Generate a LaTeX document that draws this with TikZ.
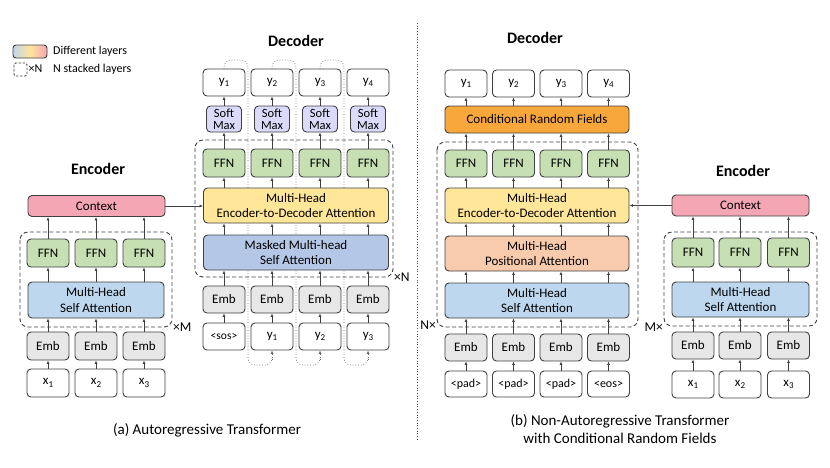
\documentclass[tikz,border=0pt]{standalone}
\usepackage{fontspec}
\setmainfont{Carlito}
\usetikzlibrary{arrows.meta}
\definecolor{ctxc}{RGB}{245,166,181}
\definecolor{ffnc}{RGB}{198,224,180}
\definecolor{sac}{RGB}{189,215,238}
\definecolor{msac}{RGB}{180,199,231}
\definecolor{edc}{RGB}{255,230,153}
\definecolor{posc}{RGB}{248,203,173}
\definecolor{crfc}{RGB}{248,167,58}
\definecolor{smc}{RGB}{218,218,250}
\definecolor{embc}{RGB}{231,231,231}
\definecolor{bordc}{RGB}{64,64,64}
\newcommand{\lsub}[1]{\raisebox{-0.4ex}{\fontsize{9}{9}\selectfont #1}}
\tikzset{
  blk/.style={draw=bordc, line width=0.9pt, rounded corners=4pt, align=center, inner sep=0pt, font=\fontsize{13}{15.5}\selectfont},
  colbox/.style={blk, minimum width=42pt, minimum height=27pt},
  tokbox/.style={colbox, fill=white},
  embbox/.style={colbox, fill=embc},
  ffnbox/.style={colbox, fill=ffnc},
  smbox/.style={blk, fill=smc, minimum width=35pt, minimum height=26pt, font=\fontsize{12.5}{12}\selectfont},
  wide/.style={blk, minimum height=35pt},
  stackbox/.style={draw=bordc, line width=0.9pt, dashed, dash pattern=on 4pt off 2.5pt, rounded corners=8pt},
  arr/.style={draw=bordc, line width=0.7pt, -{Latex[length=3.5pt,width=3pt]}},
  feed/.style={draw=bordc!80, line width=0.7pt, dotted, rounded corners=7pt, -{Latex[length=3.5pt,width=3pt]}},
  ttl/.style={font=\fontsize{16}{18}\selectfont\bfseries},
  captxt/.style={font=\fontsize{15}{18}\selectfont, align=center},
  lbl/.style={font=\fontsize{13.5}{15}\selectfont, inner sep=0pt},
  lgd/.style={font=\fontsize{12}{13}\selectfont, inner sep=0pt, anchor=west},
}
\begin{document}
\begin{tikzpicture}[x=1pt, y=-1pt]
\useasboundingbox (0,0) rectangle (830,467);
% legend
\shade[left color=sac, right color=ctxc, middle color=edc, rounded corners=3pt] (13,45) rectangle (47,58);
\draw[draw=bordc, line width=0.9pt, rounded corners=3pt] (13,45) rectangle (47,58);
\node[lgd] (lg1) at (53,51) {Different layers};
\draw[stackbox, rounded corners=2pt, dash pattern=on 2.5pt off 1.5pt] (14,63) rectangle (27,76);
\node[lgd] (lgx) at (28.5,69) {×N};
\node[lgd] (lg2) at (53,69) {N stacked layers};
% separator
\draw[line width=0.7pt, dotted, black!70] (417,23) -- (417,440);

%%%%%%%%%%%%%% (a) encoder
\node[ttl] (encA) at (98,169) {Encoder};
\draw[stackbox] (20,232) rectangle (172,327);
\node[lbl, anchor=west] (xM) at (173,327) {×M};
\node[blk, fill=ctxc, minimum width=137pt, minimum height=21pt] (ctxA) at (96.5,206) {Context};
\node[wide, fill=sac, minimum width=136pt, minimum height=36pt] (saA) at (96,300) {Multi-Head\\Self Attention};
\foreach \i/\x in {1/48,2/96,3/144}{
  \node[ffnbox, minimum height=28pt] (fA\i) at (\x,253) {FFN};
  \node[embbox, minimum height=28pt] (eA\i) at (\x,346) {Emb};
  \node[tokbox, minimum height=28pt] (xA\i) at (\x,383) {x\lsub{\i}};
  \draw[arr] (xA\i) -- (eA\i);
  \draw[arr] (eA\i.north) -- (saA.south -| eA\i.north);
  \draw[arr] (saA.north -| fA\i.south) -- (fA\i.south);
  \draw[arr] (fA\i.north) -- (ctxA.south -| fA\i.north);
}

%%%%%%%%%%%%%% (a) decoder
\node[ttl] (decA) at (296,41) {Decoder};
% feedback dotted lines (behind boxes)
\coordinate (fb1t) at (224,69);
\coordinate (fb2t) at (272,69);
\coordinate (fb3t) at (320,69);
\draw[feed, -] (fb1t) -- (224,60) -- (248,60) -- (248,365) -- (272,365) -- (272,358);
\draw[feed, -] (fb2t) -- (272,60) -- (296,60) -- (296,365) -- (320,365) -- (320,358);
\draw[feed, -] (fb3t) -- (320,60) -- (344,60) -- (344,365) -- (368,365) -- (368,358);
\draw[stackbox] (195,140) rectangle (393,277);
\node[lbl, anchor=west] (xN) at (394,277) {×N};
\node[wide, fill=edc, minimum width=185pt] (edA) at (296,205.5) {Multi-Head\\Encoder-to-Decoder Attention};
\node[wide, fill=msac, minimum width=185pt] (msA) at (296,252.5) {Masked Multi-head\\Self Attention};
\foreach \i/\x in {1/224,2/272,3/320,4/368}{
  \node[tokbox] (yA\i) at (\x,82.5) {y\lsub{\i}};
  \node[smbox] (smA\i) at (\x,119) {Soft\\Max};
  \node[ffnbox, minimum height=28pt] (fdA\i) at (\x,163) {FFN};
  \node[embbox] (edmA\i) at (\x,299.5) {Emb};
  \draw[arr] (smA\i) -- (yA\i);
  \draw[arr] (fdA\i) -- (smA\i);
  \draw[arr] (edA.north -| fdA\i.south) -- (fdA\i.south);
  \draw[arr] (msA.north -| fdA\i.south) -- (edA.south -| fdA\i.south);
  \draw[arr] (edmA\i.north) -- (msA.south -| edmA\i.north);
}
\node[tokbox, font=\fontsize{11.5}{13}\selectfont] (inA1) at (224,336.5) {<sos>};
\node[tokbox] (inA2) at (272,336.5) {y\lsub{1}};
\node[tokbox] (inA3) at (320,336.5) {y\lsub{2}};
\node[tokbox] (inA4) at (368,336.5) {y\lsub{3}};
\foreach \i in {1,2,3,4}{\draw[arr] (inA\i) -- (edmA\i);}
\draw[feed] (272,360) -- (inA2.south);
\draw[feed] (320,360) -- (inA3.south);
\draw[feed] (368,360) -- (inA4.south);
\draw[arr] (ctxA.east) -- (ctxA.east -| edA.west);
\node[captxt] (capA) at (207,430) {(a) Autoregressive Transformer};

%%%%%%%%%%%%%% (b) decoder
\node[ttl] (decB) at (535,38) {Decoder};
\draw[stackbox] (437,142) rectangle (638,327);
\node[lbl, anchor=east] (Nx) at (436,325) {N×};
\node[blk, fill=crfc, minimum width=184pt, minimum height=27pt] (crf) at (537,119.5) {Conditional Random Fields};
\node[wide, fill=edc, minimum width=184pt] (edB) at (537,205.5) {Multi-Head\\Encoder-to-Decoder Attention};
\node[wide, fill=posc, minimum width=184pt] (posB) at (537,253.5) {Multi-Head\\Positional Attention};
\node[wide, fill=sac, minimum width=184pt] (saB) at (537,300.5) {Multi-Head\\Self Attention};
\foreach \i/\x/\t in {1/466/<pad>,2/513.5/<pad>,3/561/<pad>,4/608.5/<eos>}{
  \node[tokbox] (yB\i) at (\x,83.5) {y\lsub{\i}};
  \node[ffnbox] (fB\i) at (\x,163.5) {FFN};
  \node[embbox] (eB\i) at (\x,347.5) {Emb};
  \node[tokbox, minimum height=26pt, font=\fontsize{12}{13}\selectfont] (pB\i) at (\x,384) {\t};
  \draw[arr] (crf.north -| yB\i.south) -- (yB\i.south);
  \draw[arr] (fB\i.north) -- (crf.south -| fB\i.north);
  \draw[arr] (edB.north -| fB\i.south) -- (fB\i.south);
  \draw[arr] (posB.north -| fB\i.south) -- (edB.south -| fB\i.south);
  \draw[arr] (saB.north -| fB\i.south) -- (posB.south -| fB\i.south);
  \draw[arr] (eB\i.north) -- (saB.south -| eB\i.north);
  \draw[arr] (pB\i) -- (eB\i);
}

%%%%%%%%%%%%%% (b) encoder
\node[ttl] (encB) at (743,171) {Encoder};
\draw[stackbox] (664,232) rectangle (817,326);
\node[lbl, anchor=east] (Mx) at (663,327) {M×};
\node[blk, fill=ctxc, minimum width=137pt, minimum height=21pt] (ctxB) at (740.5,205.5) {Context};
\node[wide, fill=sac, minimum width=137pt] (saB2) at (740.5,299.5) {Multi-Head\\Self Attention};
\foreach \i/\x in {1/693,2/740,3/788.5}{
  \node[ffnbox, minimum height=29pt] (fE\i) at (\x,252.5) {FFN};
  \node[embbox] (eE\i) at (\x,345.5) {Emb};
  \node[tokbox] (xE\i) at (\x,384.5) {x\lsub{\i}};
  \draw[arr] (xE\i) -- (eE\i);
  \draw[arr] (eE\i.north) -- (saB2.south -| eE\i.north);
  \draw[arr] (saB2.north -| fE\i.south) -- (fE\i.south);
  \draw[arr] (fE\i.north) -- (ctxB.south -| fE\i.north);
}
\draw[arr] (ctxB.west) -- (ctxB.west -| edB.east);
\node[captxt] (capB) at (620,429.5) {(b) Non-Autoregressive Transformer\\with Conditional Random Fields};
\end{tikzpicture}
\end{document}
